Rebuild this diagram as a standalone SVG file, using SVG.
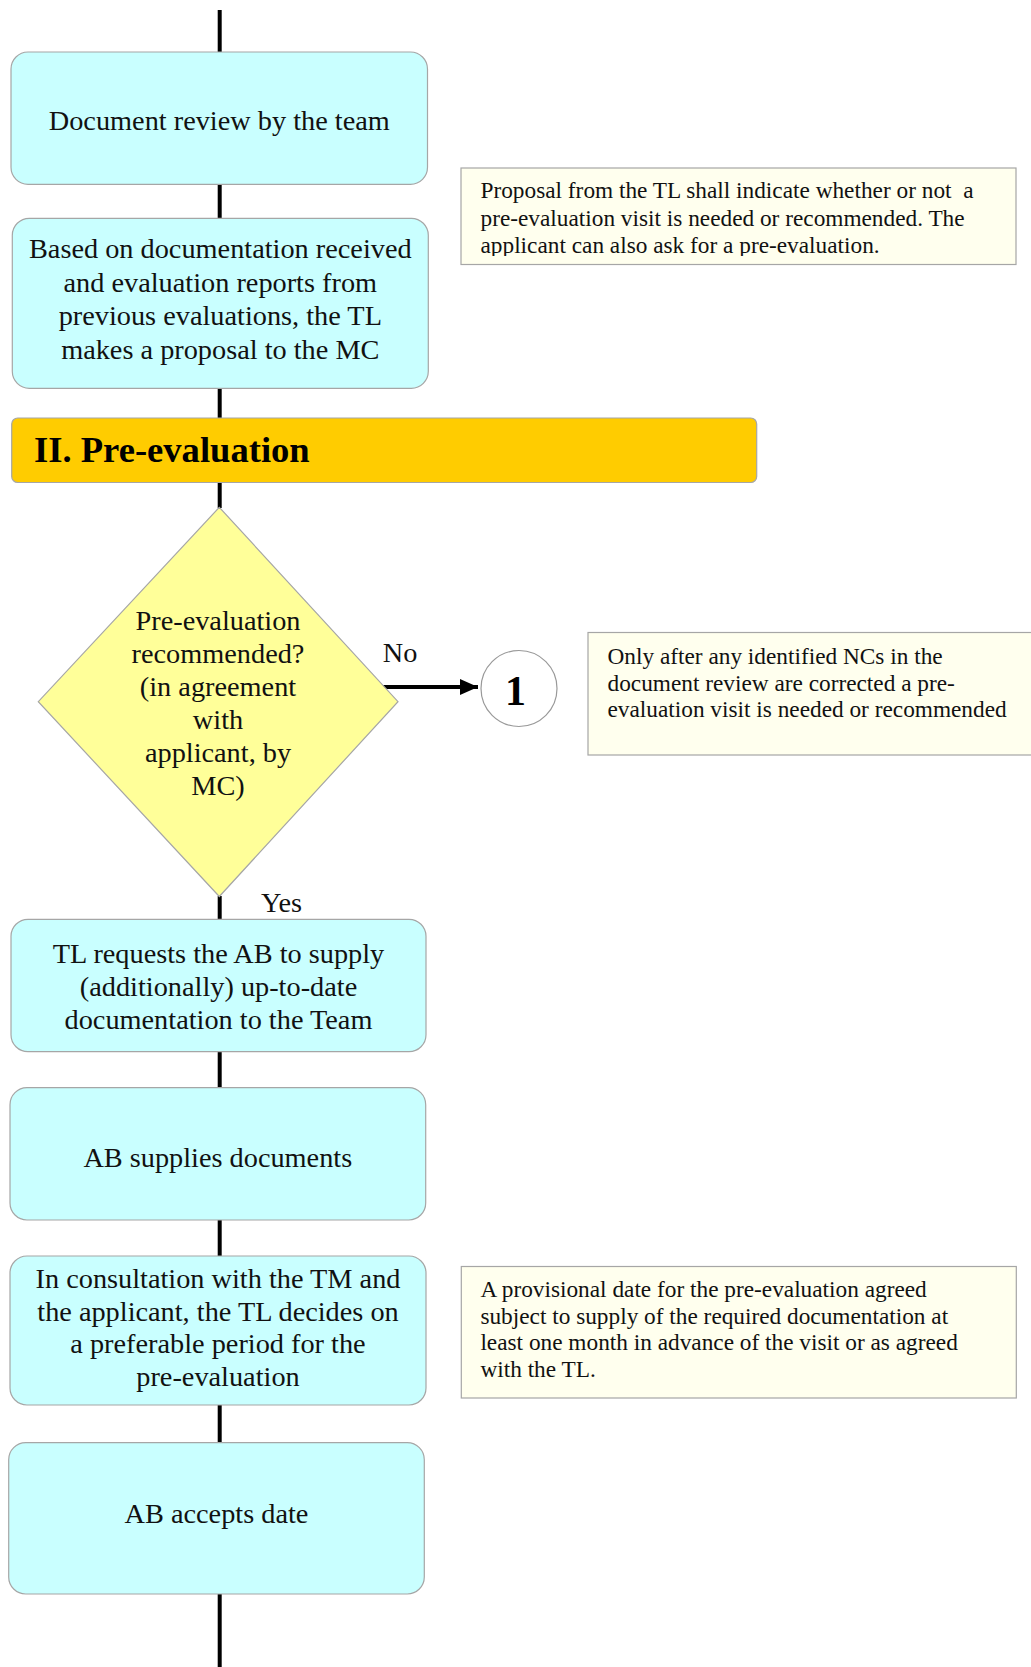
<svg xmlns="http://www.w3.org/2000/svg" width="1031" height="1667" viewBox="0 0 1031 1667">
<style>
.box{fill:#C9FFFF;stroke:#A6A6A6;stroke-width:1.2}
.dia{fill:#FFFF99;stroke:#A6A6A6;stroke-width:1.2}
.note{fill:#FFFFEE;stroke:#A6A6A6;stroke-width:1.2}
.ban{fill:#FFCC00;stroke:#A6A6A6;stroke-width:1.2}
.t{font-family:"Liberation Serif","Times New Roman",serif;font-size:28.3px;fill:#111;text-anchor:middle}
.n{font-family:"Liberation Serif","Times New Roman",serif;font-size:23.3px;fill:#111}
.b{font-family:"Liberation Serif","Times New Roman",serif;font-weight:bold;fill:#000}
.c{stroke:#000;stroke-width:4;fill:none}
</style>
<defs>
<marker id="ah" viewBox="0 0 17 15" refX="17" refY="7.5" markerWidth="4.5" markerHeight="4" markerUnits="strokeWidth" orient="auto">
<path d="M0,0 L17,7.5 L0,15 Z" fill="#000"/>
</marker>
<clipPath id="cl1"><rect x="461" y="168" width="555" height="88"/></clipPath>
</defs>
<rect width="1031" height="1667" fill="#fff"/>
<g id="connectors">
<line class="c" x1="219.7" y1="10" x2="219.7" y2="52"/>
<line class="c" x1="219.7" y1="184" x2="219.7" y2="219"/>
<line class="c" x1="219.7" y1="388" x2="219.7" y2="418"/>
<line class="c" x1="219.7" y1="482" x2="219.7" y2="508"/>
<line class="c" x1="219.7" y1="896" x2="219.7" y2="920"/>
<line class="c" x1="219.7" y1="1051" x2="219.7" y2="1088"/>
<line class="c" x1="219.7" y1="1220" x2="219.7" y2="1256"/>
<line class="c" x1="219.7" y1="1405" x2="219.7" y2="1443"/>
<line class="c" x1="219.7" y1="1594" x2="219.7" y2="1667"/>
<line class="c" x1="383" y1="687" x2="478" y2="687" marker-end="url(#ah)"/>
<text class="t" x="400" y="661.5">No</text>
<text class="t" x="281.5" y="911.5">Yes</text>
</g>
<g id="n1">
<rect class="box" x="11" y="52" width="416.5" height="132.3" rx="17"/>
<text class="t" x="219.3" y="130">Document review by the team</text>
</g>
<g id="n2">
<rect class="box" x="12.3" y="218.3" width="416" height="170" rx="17"/>
<text class="t" x="220.3" y="258">Based on documentation received</text>
<text class="t" x="220.3" y="291.5">and evaluation reports from</text>
<text class="t" x="220.3" y="325">previous evaluations, the TL</text>
<text class="t" x="220.3" y="358.5">makes a proposal to the MC</text>
</g>
<g id="note1">
<rect class="note" x="461" y="168" width="555" height="96.5"/>
<g clip-path="url(#cl1)">
<text class="n" x="480.5" y="198" xml:space="preserve">Proposal from the TL shall indicate whether or not  a</text>
<text class="n" x="480.5" y="225.5">pre-evaluation visit is needed or recommended. The</text>
<text class="n" x="480.5" y="253">applicant can also ask for a pre-evaluation.</text>
</g>
</g>
<g id="banner">
<rect class="ban" x="11.7" y="418" width="745" height="64.5" rx="6"/>
<text class="b" x="34" y="461.5" font-size="36.6">II. Pre-evaluation</text>
</g>
<g id="decision">
<polygon class="dia" points="219.3,507.3 398,701.7 219.3,896.5 38.3,701.7"/>
<text class="t" x="218" y="630">Pre-evaluation</text>
<text class="t" x="218" y="663">recommended?</text>
<text class="t" x="218" y="696">(in agreement</text>
<text class="t" x="218" y="729">with</text>
<text class="t" x="218" y="762">applicant, by</text>
<text class="t" x="218" y="795">MC)</text>
</g>
<g id="conn1">
<circle cx="519" cy="688.5" r="38" fill="#fff" stroke="#999" stroke-width="1.2"/>
<text class="b" x="515.5" y="705" font-size="42" text-anchor="middle">1</text>
</g>
<g id="note2">
<rect class="note" x="588" y="632.5" width="460" height="122.5"/>
<text class="n" x="607.5" y="664">Only after any identified NCs in the</text>
<text class="n" x="607.5" y="690.5">document review are corrected a pre-</text>
<text class="n" x="607.5" y="717">evaluation visit is needed or recommended</text>
</g>
<g id="n3">
<rect class="box" x="11" y="919.3" width="415" height="132.4" rx="17"/>
<text class="t" x="218.5" y="962.5">TL requests the AB to supply</text>
<text class="t" x="218.5" y="995.5">(additionally) up-to-date</text>
<text class="t" x="218.5" y="1028.5">documentation to the Team</text>
</g>
<g id="n4">
<rect class="box" x="10" y="1087.7" width="415.7" height="132.3" rx="17"/>
<text class="t" x="217.8" y="1166.7">AB supplies documents</text>
</g>
<g id="n5">
<rect class="box" x="10" y="1256" width="416" height="149" rx="17"/>
<text class="t" x="218" y="1287.7">In consultation with the TM and</text>
<text class="t" x="218" y="1320.5">the applicant, the TL decides on</text>
<text class="t" x="218" y="1353.3">a preferable period for the</text>
<text class="t" x="218" y="1386">pre-evaluation</text>
</g>
<g id="note3">
<rect class="note" x="461.3" y="1266.5" width="555" height="131.5"/>
<text class="n" x="480.4" y="1297">A provisional date for the pre-evaluation agreed</text>
<text class="n" x="480.4" y="1323.5">subject to supply of the required documentation at</text>
<text class="n" x="480.4" y="1350">least one month in advance of the visit or as agreed</text>
<text class="n" x="480.4" y="1376.5">with the TL.</text>
</g>
<g id="n6">
<rect class="box" x="8.7" y="1442.7" width="415.6" height="151.3" rx="17"/>
<text class="t" x="216.5" y="1522.7">AB accepts date</text>
</g>
</svg>
